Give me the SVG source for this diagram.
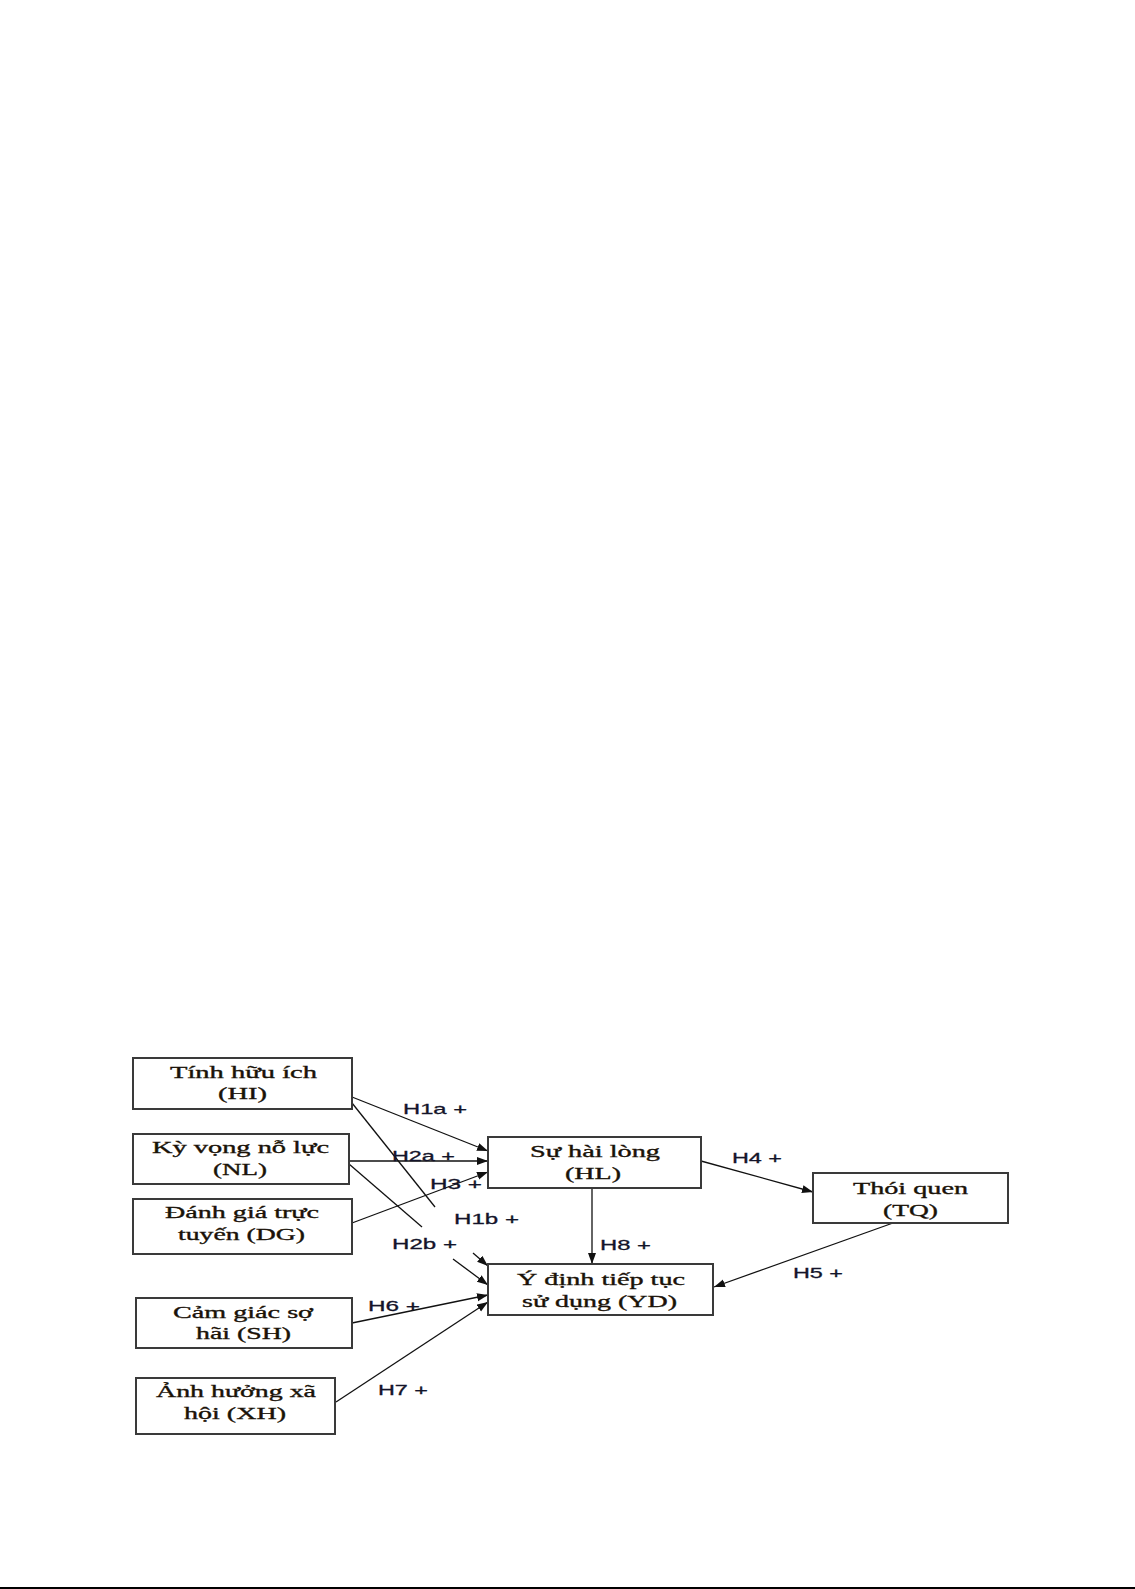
<svg xmlns="http://www.w3.org/2000/svg" width="1135" height="1589" viewBox="0 0 1135 1589">
<style>
.box{fill:#fff;stroke:#3a3a3a;stroke-width:2}
.bt{font-family:"Liberation Serif","Times New Roman",serif;font-size:17px;fill:#1a1208;stroke:#1a1208;stroke-width:0.35}
.lb{font-family:"Liberation Sans",Arial,sans-serif;font-size:15px;fill:#14142a;stroke:#14142a;stroke-width:0.3}
.c{stroke:#111;stroke-width:1.3;fill:none}
</style>
<defs>
<marker id="ah" markerUnits="userSpaceOnUse" markerWidth="12" markerHeight="9" refX="11" refY="4" orient="auto">
<path d="M0,0 L11,4 L0,8 z" fill="#111"/>
</marker>
</defs>
<rect x="0" y="0" width="1135" height="1589" fill="#fff"/>
<g id="connectors">
<line class="c" x1="352" y1="1097" x2="488" y2="1151" marker-end="url(#ah)"/>
<line class="c" x1="352" y1="1103" x2="435" y2="1207"/>
<line class="c" x1="473" y1="1253" x2="488" y2="1266" marker-end="url(#ah)"/>
<line class="c" x1="349" y1="1161" x2="488" y2="1161" marker-end="url(#ah)"/>
<line class="c" x1="349" y1="1164" x2="422" y2="1227"/>
<line class="c" x1="453" y1="1259" x2="488" y2="1285" marker-end="url(#ah)"/>
<line class="c" x1="352" y1="1223" x2="488" y2="1172" marker-end="url(#ah)"/>
<line class="c" x1="701" y1="1161" x2="813" y2="1192" marker-end="url(#ah)"/>
<line class="c" x1="592" y1="1188" x2="592" y2="1264" marker-end="url(#ah)"/>
<line class="c" x1="893" y1="1223" x2="714" y2="1287" marker-end="url(#ah)"/>
<line class="c" x1="352" y1="1323" x2="488" y2="1295" marker-end="url(#ah)" stroke-width="1"/>
<line class="c" x1="336" y1="1402" x2="488" y2="1302" marker-end="url(#ah)"/>
</g>
<g id="labels">
<text class="lb" x="403" y="1114" textLength="64" lengthAdjust="spacingAndGlyphs">H1a +</text>
<text class="lb" x="392" y="1161" textLength="63" lengthAdjust="spacingAndGlyphs">H2a +</text>
<text class="lb" x="430" y="1189" textLength="52" lengthAdjust="spacingAndGlyphs">H3 +</text>
<text class="lb" x="454" y="1224" textLength="65" lengthAdjust="spacingAndGlyphs">H1b +</text>
<text class="lb" x="392" y="1249" textLength="65" lengthAdjust="spacingAndGlyphs">H2b +</text>
<text class="lb" x="732" y="1163" textLength="50" lengthAdjust="spacingAndGlyphs">H4 +</text>
<text class="lb" x="600" y="1250" textLength="51" lengthAdjust="spacingAndGlyphs">H8 +</text>
<text class="lb" x="793" y="1278" textLength="50" lengthAdjust="spacingAndGlyphs">H5 +</text>
<text class="lb" x="368" y="1311" textLength="52" lengthAdjust="spacingAndGlyphs">H6 +</text>
<text class="lb" x="378" y="1395" textLength="50" lengthAdjust="spacingAndGlyphs">H7 +</text>
</g>
<g id="HI">
<rect class="box" x="133" y="1058" width="219" height="51"/>
<text class="bt" x="170" y="1078" textLength="147" lengthAdjust="spacingAndGlyphs">Tính hữu ích</text>
<text class="bt" x="218" y="1099" textLength="49" lengthAdjust="spacingAndGlyphs">(HI)</text>
</g>
<g id="NL">
<rect class="box" x="133" y="1134" width="216" height="50"/>
<text class="bt" x="152" y="1153" textLength="177" lengthAdjust="spacingAndGlyphs">Kỳ vọng nỗ lực</text>
<text class="bt" x="213" y="1175" textLength="54" lengthAdjust="spacingAndGlyphs">(NL)</text>
</g>
<g id="DG">
<rect class="box" x="133" y="1199" width="219" height="55"/>
<text class="bt" x="165" y="1218" textLength="154" lengthAdjust="spacingAndGlyphs">Đánh giá trực</text>
<text class="bt" x="178" y="1240" textLength="127" lengthAdjust="spacingAndGlyphs">tuyến (DG)</text>
</g>
<g id="SH">
<rect class="box" x="136" y="1298" width="216" height="50"/>
<text class="bt" x="173" y="1318" textLength="140" lengthAdjust="spacingAndGlyphs">Cảm giác sợ</text>
<text class="bt" x="196" y="1339" textLength="95" lengthAdjust="spacingAndGlyphs">hãi (SH)</text>
</g>
<g id="XH">
<rect class="box" x="136" y="1378" width="199" height="56"/>
<text class="bt" x="156" y="1397" textLength="160" lengthAdjust="spacingAndGlyphs">Ảnh hưởng xã</text>
<text class="bt" x="184" y="1419" textLength="102" lengthAdjust="spacingAndGlyphs">hội (XH)</text>
</g>
<g id="HL">
<rect class="box" x="488" y="1137" width="213" height="51"/>
<text class="bt" x="530" y="1157" textLength="130" lengthAdjust="spacingAndGlyphs">Sự hài lòng</text>
<text class="bt" x="565" y="1179" textLength="56" lengthAdjust="spacingAndGlyphs">(HL)</text>
</g>
<g id="TQ">
<rect class="box" x="813" y="1173" width="195" height="50"/>
<text class="bt" x="853" y="1194" textLength="115" lengthAdjust="spacingAndGlyphs">Thói quen</text>
<text class="bt" x="883" y="1216" textLength="55" lengthAdjust="spacingAndGlyphs">(TQ)</text>
</g>
<g id="YD">
<rect class="box" x="488" y="1264" width="225" height="51"/>
<text class="bt" x="517" y="1285" textLength="168" lengthAdjust="spacingAndGlyphs">Ý định tiếp tục</text>
<text class="bt" x="522" y="1307" textLength="155" lengthAdjust="spacingAndGlyphs">sử dụng (YD)</text>
</g>
<rect x="0" y="1587" width="1135" height="2" fill="#000"/>
</svg>
